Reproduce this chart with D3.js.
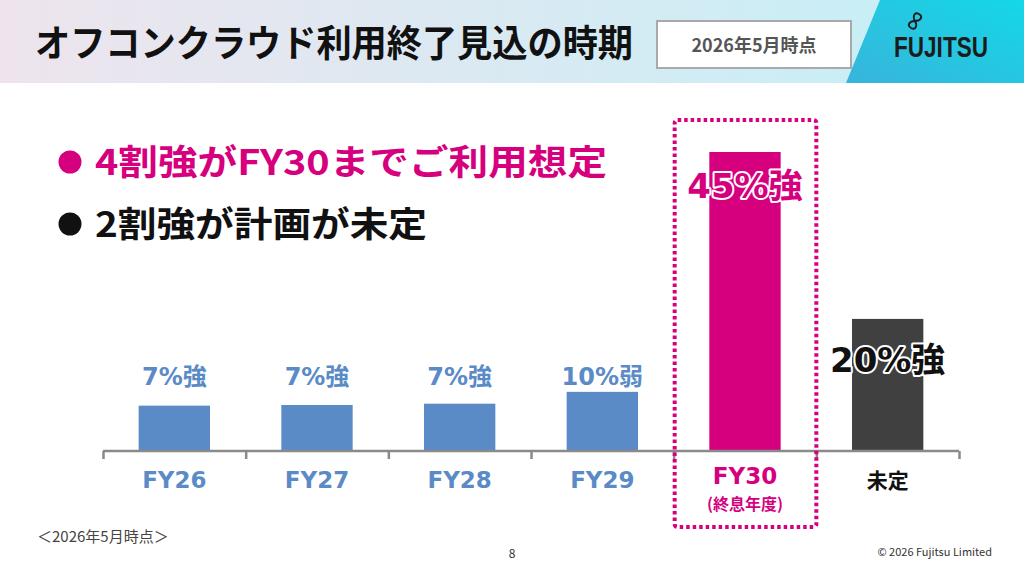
<!DOCTYPE html>
<html>
<head>
<meta charset="utf-8">
<script src="https://cdn.jsdelivr.net/npm/d3@7"></script>
<style>
	body { margin: 0; background: #fff; }
	svg { display: block; font-family: "Noto Sans CJK JP", "Noto Sans", sans-serif; }
</style>
</head>
<body>
<div class="chart"></div>
<script>
// data
const categories = ["FY26", "FY27", "FY28", "FY29", "FY30", "未定"];
const values = [6.9, 7.0, 7.2, 9.0, 45.5, 20.1];
const valueLabels = ["7%強", "7%強", "7%強", "10%弱", "45%強", "20%強"];
const bullets = ["4割強がFY30までご利用想定", "2割強が計画が未定"];

const w = 1024,
	h = 576,
	blue = "#5a8bc7",
	magenta = "#d6007f",
	dark = "#404040",
	wide = "'DejaVu Sans', 'Noto Sans CJK JP', sans-serif";

const svg = d3.select(".chart").append("svg").attr("width", w).attr("height", h);
const defs = svg.append("defs");

// header background
const hg = defs.append("linearGradient").attr("id", "hdr");
hg.append("stop").attr("offset", "0%").attr("stop-color", "#eee4ed");
hg.append("stop").attr("offset", "45%").attr("stop-color", "#dbe9f2");
hg.append("stop").attr("offset", "100%").attr("stop-color", "#c3f0f7");
const cg = defs.append("linearGradient").attr("id", "cyan")
	.attr("x1", "1").attr("y1", "0").attr("x2", "0").attr("y2", "1");
cg.append("stop").attr("offset", "0%").attr("stop-color", "#14d8e6");
cg.append("stop").attr("offset", "100%").attr("stop-color", "#38b4db");

svg.append("rect").attr("width", w).attr("height", 83).attr("fill", "url(#hdr)");
svg.append("path").attr("d", "M880,0 L1024,0 L1024,83 L846,83 Z").attr("fill", "url(#cyan)");

svg.append("text")
	.attr("x", 35).attr("y", 57)
	.attr("textLength", 598).attr("lengthAdjust", "spacingAndGlyphs")
	.attr("font-size", 37).attr("font-weight", 700).attr("fill", "#111")
	.text("オフコンクラウド利用終了見込の時期");

svg.append("rect").attr("x", 657).attr("y", 21).attr("width", 194).attr("height", 47)
	.attr("fill", "#fff").attr("stroke", "#a9a9a9").attr("stroke-width", 2);
svg.append("text").attr("x", 754).attr("y", 52).attr("text-anchor", "middle")
	.attr("font-size", 18).attr("font-weight", 700).attr("fill", "#555")
	.text("2026年5月時点");

// logo
const logo = svg.append("g");
logo.append("text").attr("x", 941).attr("y", 57).attr("text-anchor", "middle")
	.attr("textLength", 94).attr("lengthAdjust", "spacingAndGlyphs")
	.attr("font-family", "'Liberation Sans Narrow', 'Liberation Sans', sans-serif")
	.attr("font-size", 30).attr("font-weight", 700).attr("fill", "#1c1c1c")
	.text("FUJITSU");
logo.append("path")
	.attr("d", "M915,21 C912,16 907,16 907,21 C907,26 912,26 915,21 C918,16 923,16 923,21 C923,26 918,26 915,21 Z")
	.attr("fill", "none").attr("stroke", "#1c1c1c").attr("stroke-width", 1.8)
	.attr("transform", "rotate(-60 915 21)");

// bullets
const bulletLen = [512, 332];
bullets.forEach((b, i) => {
	const col = i === 0 ? magenta : "#111";
	const y = 175 + i * 62;
	svg.append("circle").attr("cx", 70).attr("cy", y - 13).attr("r", 11.5).attr("fill", col);
	svg.append("text").attr("x", 95).attr("y", y)
		.attr("textLength", bulletLen[i]).attr("lengthAdjust", "spacingAndGlyphs")
		.attr("font-size", 35).attr("font-weight", 700).attr("fill", col)
		.text(b);
});

// scales
const xScale = d3.scaleBand().domain(categories).range([103, 959])
	.paddingInner(0.5).paddingOuter(0.25);
const yScale = d3.scaleLinear().domain([0, 45.5]).range([451, 152]);
const edge = d3.scaleLinear().domain([0, categories.length]).range([103, 959]);

const barColor = (d, i) => i === 4 ? magenta : i === 5 ? dark : blue;

svg.selectAll(".bar")
	.data(values)
	.enter()
	.append("rect")
	.attr("class", "bar")
	.attr("x", (d, i) => xScale(categories[i]))
	.attr("y", (d) => yScale(d))
	.attr("width", xScale.bandwidth())
	.attr("height", (d) => yScale(0) - yScale(d))
	.attr("fill", barColor);

// axis with ticks between categories
const xAxis = d3.axisBottom(edge).tickValues(d3.range(categories.length + 1))
	.tickSize(8).tickFormat("");
const ax = svg.append("g").attr("transform", "translate(0," + yScale(0) + ")").call(xAxis);
ax.selectAll("path").attr("stroke", "#8a8a8a").attr("stroke-width", 2.5)
	.attr("d", "M103,0H959");
ax.selectAll("line").attr("stroke", "#8a8a8a").attr("stroke-width", 2.5);

// category labels
svg.selectAll(".cat")
	.data(categories)
	.enter()
	.append("text")
	.attr("class", "cat")
	.attr("x", (d) => xScale(d) + xScale.bandwidth() / 2)
	.attr("y", (d, i) => i === 4 ? 484 : 488)
	.attr("text-anchor", "middle")
	.attr("font-family", wide)
	.attr("font-size", (d, i) => i === 5 ? 21 : 23)
	.attr("font-weight", 700)
	.attr("fill", (d, i) => i === 4 ? magenta : i === 5 ? "#111" : blue)
	.text((d) => d);
svg.append("text")
	.attr("x", xScale("FY30") + xScale.bandwidth() / 2).attr("y", 510)
	.attr("text-anchor", "middle").attr("font-size", 16).attr("font-weight", 700)
	.attr("fill", magenta).text("(終息年度)");

// value labels
svg.selectAll(".val")
	.data(values)
	.enter()
	.append("text")
	.attr("class", "val")
	.attr("x", (d, i) => xScale(categories[i]) + xScale.bandwidth() / 2)
	.attr("y", (d, i) => i < 4 ? 385 : i === 4 ? yScale(d) + 46 : yScale(d) + 53)
	.attr("text-anchor", "middle")
	.attr("font-family", wide)
	.attr("font-size", (d, i) => i < 4 ? 24 : 34)
	.attr("font-weight", 700)
	.attr("fill", (d, i) => i < 4 ? blue : i === 4 ? magenta : "#111")
	.attr("stroke", (d, i) => i < 4 ? "none" : "#fff")
	.attr("stroke-width", 4)
	.attr("paint-order", "stroke")
	.attr("stroke-linejoin", "round")
	.text((d, i) => valueLabels[i]);

// dotted highlight around FY30
svg.append("rect")
	.attr("x", edge(4) + 1).attr("y", 120)
	.attr("width", edge(5) - edge(4) - 1).attr("height", 407)
	.attr("rx", 3)
	.attr("fill", "none").attr("stroke", magenta).attr("stroke-width", 4)
	.attr("stroke-dasharray", "3.5,3");

// footer
svg.append("text").attr("x", 37).attr("y", 542).attr("font-size", 15).attr("fill", "#444")
	.text("＜2026年5月時点＞");
svg.append("text").attr("x", 512).attr("y", 558).attr("text-anchor", "middle")
	.attr("font-size", 12).attr("fill", "#333").text("8");
svg.append("text").attr("x", 992).attr("y", 556).attr("text-anchor", "end")
	.attr("font-size", 11).attr("fill", "#333").text("© 2026 Fujitsu Limited");
</script>
</body>
</html>
